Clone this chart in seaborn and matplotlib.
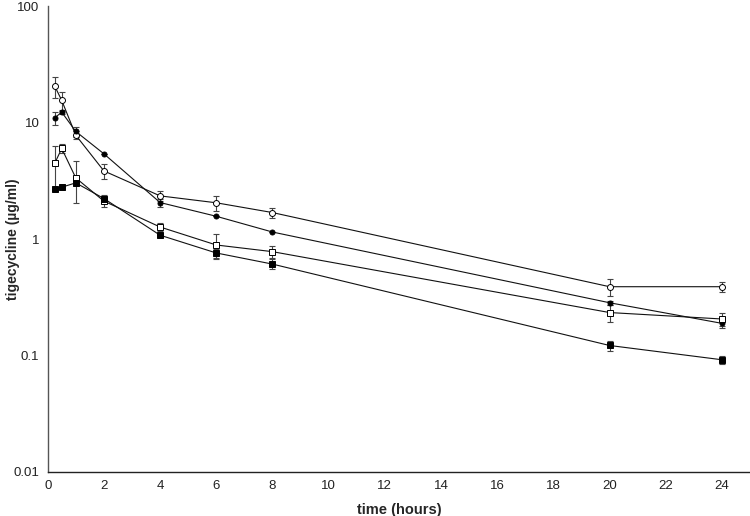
import matplotlib
matplotlib.use("Agg")
import matplotlib.pyplot as plt
import seaborn as sns
import numpy as np
import pandas as pd

time_h = [0.25, 0.5, 1, 2, 4, 6, 8, 20, 24]

open_circle = [20.6, 15.5, 7.8, 3.85, 2.35, 2.05, 1.69, 0.39, 0.39]
open_circle_err = [4.3, 3.0, 0.6, 0.6, 0.22, 0.3, 0.17, 0.065, 0.04]

filled_circle = [11.0, 12.3, 8.4, 5.4, 2.06, 1.57, 1.15, 0.284, 0.189]
filled_circle_err = [1.4, 0.5, 0.8, 0.0, 0.17, 0.0, 0.0, 0.01, 0.015]

open_square = [4.48, 6.0, 3.35, 2.12, 1.27, 0.89, 0.78, 0.234, 0.206]
open_square_err = [1.8, 0.5, 1.3, 0.25, 0.1, 0.22, 0.09, 0.038, 0.025]

filled_square = [2.7, 2.79, 3.04, 2.23, 1.08, 0.76, 0.61, 0.122, 0.092]
filled_square_err = [0.0, 0.0, 0.1, 0.1, 0.03, 0.07, 0.06, 0.012, 0.007]

y_ticks = [0.01, 0.1, 1, 10, 100]
y_tick_labels = ["0.01", "0.1", "1", "10", "100"]
x_ticks = list(range(0, 26, 2))

sns.set_theme(style="white")
plt.rcParams["font.family"] = ["Liberation Sans", "DejaVu Sans"]

fig = plt.figure(figsize=(7.5, 5.16), dpi=100)
ax = fig.add_axes([0.0636, 0.0853, 0.9364, 0.9027])

series = [
    ("open circle", open_circle, open_circle_err, "o", "white", 4.3),
    ("filled circle", filled_circle, filled_circle_err, "o", "black", 3.6),
    ("open square", open_square, open_square_err, "s", "white", 4.0),
    ("filled square", filled_square, filled_square_err, "s", "black", 4.0),
]

for name, vals, errs, mk, fc, ms in series:
    df = pd.DataFrame({"time": time_h, "conc": vals})
    ax.errorbar(time_h, vals, yerr=errs, fmt="none", ecolor="#444444",
                elinewidth=0.8, capsize=2.2, capthick=0.8, zorder=2)
    sns.lineplot(data=df, x="time", y="conc", ax=ax, color="#111111",
                 linewidth=0.8, marker=mk, markersize=ms,
                 markerfacecolor=fc, markeredgecolor="black",
                 markeredgewidth=0.7, zorder=3)

ax.set_yscale("log")
ax.set_ylim(0.01, 100)
ax.set_xlim(0, 25)
ax.set_yticks(y_ticks)
ax.set_yticklabels(y_tick_labels)
ax.yaxis.set_minor_locator(matplotlib.ticker.NullLocator())
ax.set_xticks(x_ticks)

for s in ["top", "right"]:
    ax.spines[s].set_visible(False)
ax.spines["left"].set_color("#555555")
ax.spines["bottom"].set_color("#222222")
for s in ["left", "bottom"]:
    ax.spines[s].set_linewidth(1.0)

ax.tick_params(axis="both", which="major", direction="out", length=4,
               width=0.8, color="#444444", labelsize=9.5, labelcolor="#222222", pad=2)

ax.set_xlabel("time (hours)", fontsize=10.5, fontweight="bold", labelpad=8)
ax.set_ylabel("tigecycline (µg/ml)", fontsize=10, fontweight="bold")
ax.yaxis.set_label_coords(-0.040, 0.5)

fig.savefig("out.png", dpi=100)
